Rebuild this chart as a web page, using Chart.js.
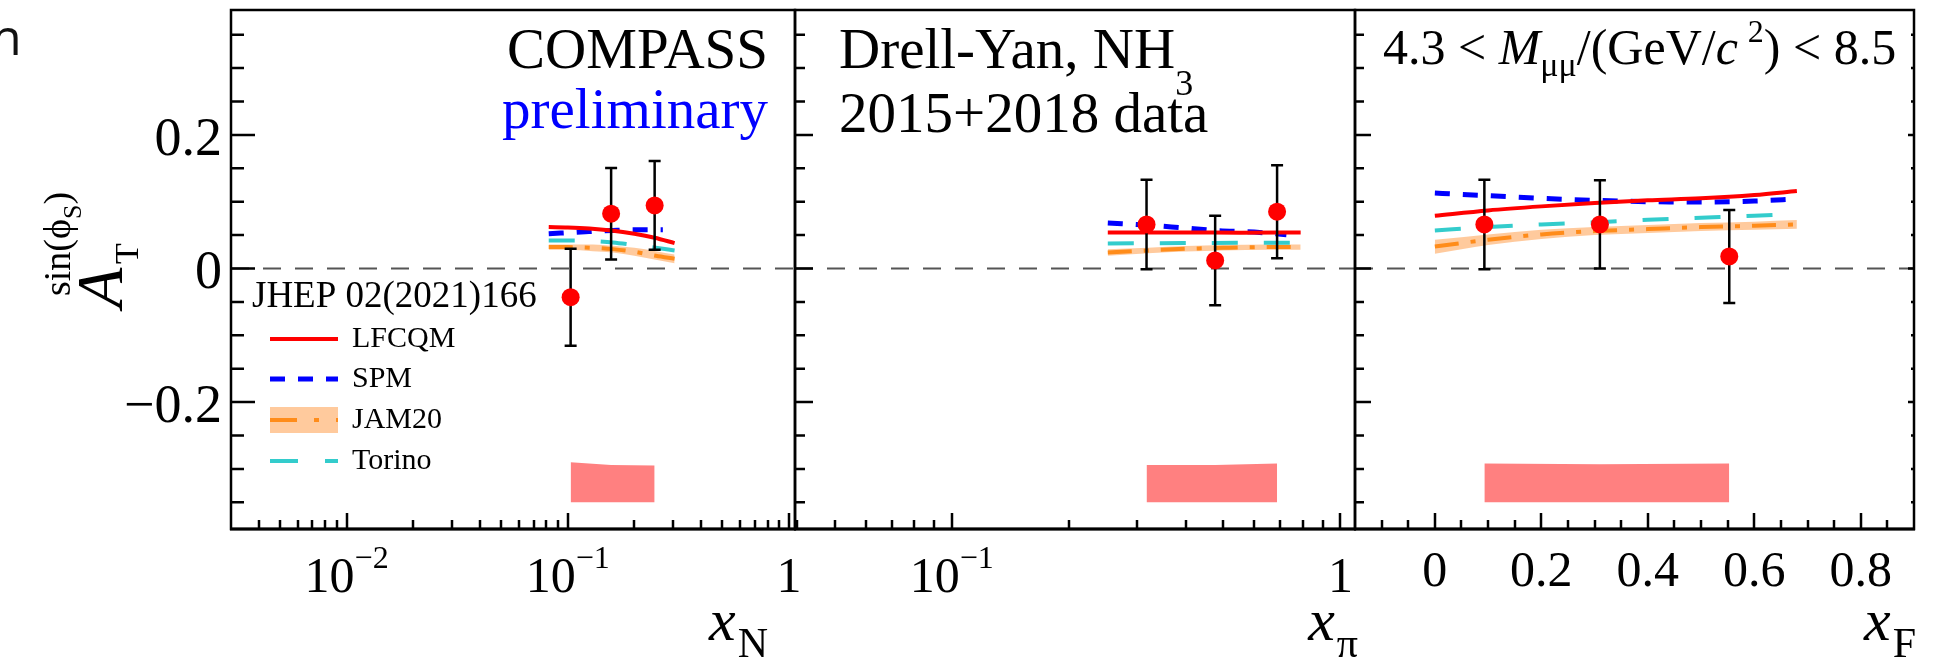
<!DOCTYPE html>
<html>
<head>
<meta charset="utf-8">
<script src="https://cdn.jsdelivr.net/npm/chart.js@4.4.0/dist/chart.umd.min.js"></script>
<style>
  html,body{margin:0;padding:0;background:#fff;}
  #wrap{position:relative;width:1936px;height:660px;overflow:hidden;}
  #wrap canvas{position:absolute;left:0;top:0;}
</style>
</head>
<body>
<div id="wrap">
  <canvas id="pN" width="1936" height="660"></canvas>
  <canvas id="pPi" width="1936" height="660"></canvas>
  <canvas id="pF" width="1936" height="660"></canvas>
</div>
<script>
// A_T^sin(phi_S) vs x_N, x_pi, x_F

// data points: x, asymmetry, stat error, systematic error
const xN  = [0.103, 0.157, 0.247];
const aN  = [-0.043, 0.082, 0.0945];
const eN  = [0.0725, 0.0685, 0.0665];
const sN  = [0.060, 0.056, 0.055];

const xPi = [0.317, 0.476, 0.687];
const aPi = [0.066, 0.012, 0.085];
const ePi = [0.067, 0.067, 0.0695];
const sPi = [0.056, 0.056, 0.058];

const xF  = [0.093, 0.31, 0.553];
const aF  = [0.066, 0.066, 0.018];
const eF  = [0.067, 0.066, 0.0695];
const sF  = [0.058, 0.057, 0.058];

const sysBase = -0.35;

// model curves [x, y]  (JAM20: [x, low, central, high])
const lfcqmN  = [[0.082,0.062],[0.1,0.0615],[0.125,0.060],[0.157,0.057],[0.2,0.052],[0.247,0.046],[0.304,0.038]];
const spmN    = [[0.082,0.052],[0.12,0.055],[0.16,0.057],[0.2,0.058],[0.269,0.058]];
const torinoN = [[0.082,0.042],[0.1,0.042],[0.13,0.041],[0.16,0.039],[0.2,0.035],[0.25,0.031],[0.304,0.027]];
const jamN    = [[0.082,0.028,0.032,0.036],[0.1,0.028,0.032,0.036],[0.13,0.026,0.031,0.036],[0.16,0.024,0.029,0.034],[0.2,0.019,0.025,0.031],[0.25,0.013,0.019,0.026],[0.304,0.008,0.0145,0.021]];

const lfcqmPi  = [[0.252,0.054],[0.4,0.054],[0.55,0.0535],[0.79,0.054]];
const spmPi    = [[0.252,0.068],[0.317,0.065],[0.39,0.061],[0.476,0.057],[0.6,0.0545],[0.726,0.0505]];
const torinoPi = [[0.252,0.0375],[0.4,0.038],[0.6,0.0385],[0.79,0.0385]];
const jamPi    = [[0.252,0.019,0.024,0.029],[0.32,0.023,0.027,0.031],[0.4,0.0255,0.0295,0.0335],[0.5,0.027,0.031,0.035],[0.65,0.028,0.032,0.036],[0.79,0.028,0.032,0.036]];

const lfcqmF  = [[0,0.079],[0.1,0.087],[0.2,0.093],[0.3,0.098],[0.4,0.102],[0.5,0.105],[0.6,0.110],[0.68,0.116]];
const spmF    = [[0,0.113],[0.1,0.109],[0.2,0.105],[0.3,0.102],[0.4,0.100],[0.5,0.0995],[0.6,0.101],[0.68,0.104]];
const torinoF = [[0,0.057],[0.1,0.062],[0.2,0.066],[0.3,0.069],[0.4,0.073],[0.5,0.076],[0.6,0.079],[0.68,0.082]];
const jamF    = [[0,0.022,0.033,0.043],[0.1,0.035,0.043,0.051],[0.2,0.044,0.051,0.058],[0.3,0.050,0.056,0.062],[0.4,0.053,0.059,0.065],[0.5,0.056,0.062,0.068],[0.6,0.058,0.064,0.070],[0.68,0.0595,0.066,0.0725]];

// tick labels
const yTickVals = [0.2, 0, -0.2];
const yTickText = ['0.2', '0', '\u22120.2'];
const xNTicks   = [0.01, 0.1, 1];
const xNText    = [['10','\u22122'], ['10','\u22121'], ['1','']];
const xPiTicks  = [0.1, 1];
const xPiText   = [['10','\u22121'], ['1','']];
const xFTicks   = [0, 0.2, 0.4, 0.6, 0.8];
const xFText    = ['0', '0.2', '0.4', '0.6', '0.8'];

const legendNames = ['LFCQM', 'SPM', 'JAM20', 'Torino'];

const RED = '#ff0000', BLUE = '#0000ff', ORANGE = '#ff8c1a', CYAN = '#33cccc';
const JAMBAND = 'rgba(255,150,60,0.5)', SYS = '#ff8080';
const FONT = '"Liberation Serif","Times New Roman",serif';
const yMin = -0.39, yMax = 0.387;

function font(size, italic){ return (italic ? 'italic ' : '') + size + 'px ' + FONT; }

// parts: [text, size, italic, dy, color, gapAfter]
function rich(ctx, x, y, parts, align){
  let w = 0;
  parts.forEach(p=>{ ctx.font = font(p[1], p[2]); w += ctx.measureText(p[0]).width + (p[5]||0); });
  if (align === 'right') x -= w; else if (align === 'center') x -= w/2;
  ctx.textAlign = 'left'; ctx.textBaseline = 'alphabetic';
  parts.forEach(p=>{
    ctx.font = font(p[1], p[2]); ctx.fillStyle = p[4] || '#000';
    ctx.fillText(p[0], x, y + (p[3]||0));
    x += ctx.measureText(p[0]).width + (p[5]||0);
  });
}

function pts(arr, k){ return arr.map(p=>({x:p[0], y:p[k]})); }
function curve(arr, k, color, dash, width){
  return {data: pts(arr, k), borderColor: color, borderDash: dash, borderWidth: width, pointRadius: 0, fill: false, cubicInterpolationMode: 'monotone'};
}

function logTicks(min, max){
  const out = [];
  for (let d = -3; d <= 0; d++) for (let m = 1; m <= 9; m++) {
    const v = m * Math.pow(10, d);
    if (v > min*1.001 && v < max*0.999) out.push({v, major: m === 1});
  }
  return out;
}
function linTicks(){
  const out = [];
  for (let k = -2; k <= 17; k++) out.push({v: k*0.05, major: k % 4 === 0});
  return out;
}

function panel(id, p){
  const datasets = [
    {data: p.x.map((x,i)=>({x, y: p.a[i], e: p.e[i]})), showLine: false, pointRadius: 9, pointBackgroundColor: RED, pointBorderWidth: 0},
    curve(p.lfcqm, 1, RED, [], 4),
    curve(p.spm, 1, BLUE, [15,13], 5),
    curve(p.torino, 1, CYAN, [26,26], 4),
    curve(p.jam, 2, ORANGE, [24,12,5,12], 4),
    {data: pts(p.jam, 3), borderWidth: 0, pointRadius: 0, fill: '+1', backgroundColor: JAMBAND, cubicInterpolationMode: 'monotone'},
    {data: pts(p.jam, 1), borderWidth: 0, pointRadius: 0, fill: false, cubicInterpolationMode: 'monotone'},
    {data: p.x.map((x,i)=>({x, y: sysBase + p.s[i]})), borderWidth: 0, pointRadius: 0, fill: {value: sysBase}, backgroundColor: SYS}
  ];

  const deco = {
    id: 'deco',
    beforeDatasetsDraw(ch){
      const ctx = ch.ctx, a = ch.chartArea, y0 = ch.scales.y.getPixelForValue(0);
      ctx.save(); ctx.strokeStyle = '#555'; ctx.lineWidth = 2; ctx.setLineDash([18,14]);
      ctx.beginPath(); ctx.moveTo(a.left, y0); ctx.lineTo(a.right, y0); ctx.stroke(); ctx.restore();
    },
    beforeDatasetDraw(ch, args){
      if (args.index !== 0) return;
      const ctx = ch.ctx, xs = ch.scales.x, ys = ch.scales.y;
      ctx.save(); ctx.strokeStyle = '#000'; ctx.lineWidth = 2.5;
      ch.data.datasets[0].data.forEach(d=>{
        const x = xs.getPixelForValue(d.x), y1 = ys.getPixelForValue(d.y + d.e), y2 = ys.getPixelForValue(d.y - d.e);
        ctx.beginPath(); ctx.moveTo(x, y1); ctx.lineTo(x, y2);
        ctx.moveTo(x-6, y1); ctx.lineTo(x+6, y1); ctx.moveTo(x-6, y2); ctx.lineTo(x+6, y2); ctx.stroke();
      });
      ctx.restore();
    },
    afterDraw(ch){
      const ctx = ch.ctx, a = ch.chartArea, xs = ch.scales.x, ys = ch.scales.y;
      ctx.save();
      ctx.strokeStyle = '#000'; ctx.lineWidth = 2.5; ctx.setLineDash([]);
      ctx.strokeRect(a.left, a.top, a.right - a.left, a.bottom - a.top);
      ctx.lineWidth = 3; ctx.beginPath(); ctx.moveTo(a.left - 1, a.bottom); ctx.lineTo(a.right + 1, a.bottom); ctx.stroke();
      // y ticks (inward)
      ctx.lineWidth = 2.5; ctx.beginPath();
      for (let k = -7; k <= 7; k++) {
        const y = ys.getPixelForValue(k*0.05), major = k % 4 === 0;
        ctx.moveTo(a.left, y); ctx.lineTo(a.left + (major ? p.tick[0] : p.tick[1]), y);
        if (p.rightTicks) { ctx.moveTo(a.right, y); ctx.lineTo(a.right - (major ? 6 : 3), y); }
      }
      ctx.stroke();
      // x ticks (inward)
      ctx.lineWidth = 2.5; ctx.beginPath();
      p.xticks.forEach(t=>{
        const x = Math.round(xs.getPixelForValue(t.v));
        if (x <= a.left + 1 || x >= a.right - 1) return;
        ctx.moveTo(x, a.bottom); ctx.lineTo(x, a.bottom - (t.major ? 16 : 9));
      });
      ctx.stroke();
      // x tick labels
      p.xlabels.forEach((t,i)=>{
        const x = xs.getPixelForValue(p.xlabelVals[i]);
        if (Array.isArray(t)) rich(ctx, x, 592, t[1] ? [[t[0],50],[t[1],32,false,-24]] : [[t[0],50]], 'center');
        else rich(ctx, x, 586, [[t,50]], 'center');
      });
      // axis title
      rich(ctx, p.titleRight, 640, [['x',60,true,0,null,2],[p.sub,42,false,17]], 'right');
      if (p.extra) p.extra(ctx, ch);
      ctx.restore();
    }
  };

  return new Chart(document.getElementById(id), {
    type: 'line',
    data: {datasets},
    options: {
      responsive: false, animation: false, events: [], devicePixelRatio: 1,
      layout: {padding: {left: p.L, right: 1936 - p.R, top: 10, bottom: 131}},
      plugins: {legend: {display: false}, tooltip: {enabled: false}},
      scales: {
        x: {type: p.xtype, min: p.xmin, max: p.xmax, display: false},
        y: {type: 'linear', min: yMin, max: yMax, display: false}
      }
    },
    plugins: [deco]
  });
}

// panel 1: x_N
panel('pN', {
  x: xN, a: aN, e: eN, s: sN, lfcqm: lfcqmN, spm: spmN, torino: torinoN, jam: jamN,
  L: 231, R: 795, xtype: 'logarithmic', xmin: 0.003, xmax: 1.065, tick: [24, 13],
  xticks: logTicks(0.003, 1.065), xlabels: xNText, xlabelVals: xNTicks, sub: 'N', titleRight: 768,
  extra(ctx, ch){
    const ys = ch.scales.y;
    // y tick labels
    yTickVals.forEach((v,i)=>rich(ctx, 222, ys.getPixelForValue(v) + 20, [[yTickText[i],54]], 'right'));
    // y title, rotated
    ctx.save(); ctx.translate(122, 308); ctx.rotate(-Math.PI/2);
    rich(ctx, 0, 0, [['A',66,true]]);
    rich(ctx, 44, 16, [['T',34]]);
    rich(ctx, 12, -52, [['sin(\u03d5',38],['S',26,false,11],[')',38]]);
    ctx.restore();
    // labels
    rich(ctx, 768, 68, [['COMPASS',57]], 'right');
    rich(ctx, 768, 128, [['preliminary',57,false,0,'#0000ff']], 'right');
    // legend
    rich(ctx, 252, 307, [['JHEP 02(2021)166',37]]);
    const rows = [339, 379, 420, 461];
    ctx.fillStyle = JAMBAND; ctx.fillRect(270, 407, 68, 26);
    const st = [[RED,[],4],[BLUE,[15,13],5],[ORANGE,[27,17,5,17],4],[CYAN,[28,27],4]];
    st.forEach((s,i)=>{
      ctx.strokeStyle = s[0]; ctx.setLineDash(s[1]); ctx.lineWidth = s[2];
      ctx.beginPath(); ctx.moveTo(270, rows[i]); ctx.lineTo(338, rows[i]); ctx.stroke();
      rich(ctx, 352, rows[i] + 8, [[legendNames[i],30]]);
    });
    ctx.setLineDash([]);
    // cropped glyph at the page edge
    ctx.font = '50px "Open Sans"'; ctx.fillStyle = '#111'; ctx.fillText('n', -9, 55);
  }
});

// panel 2: x_pi
panel('pPi', {
  x: xPi, a: aPi, e: ePi, s: sPi, lfcqm: lfcqmPi, spm: spmPi, torino: torinoPi, jam: jamPi,
  L: 795, R: 1355, xtype: 'logarithmic', xmin: 0.0395, xmax: 1.09, tick: [18, 10],
  xticks: logTicks(0.0395, 1.09), xlabels: xPiText, xlabelVals: xPiTicks, sub: '\u03c0', titleRight: 1358,
  extra(ctx){
    rich(ctx, 839, 68, [['Drell-Yan, NH',57],['3',36,false,27]]);
    rich(ctx, 839, 132, [['2015+2018 data',57]]);
  }
});

// panel 3: x_F
panel('pF', {
  x: xF, a: aF, e: eF, s: sF, lfcqm: lfcqmF, spm: spmF, torino: torinoF, jam: jamF,
  L: 1355, R: 1914, xtype: 'linear', xmin: -0.15, xmax: 0.9, tick: [16, 9], rightTicks: true,
  xticks: linTicks(), xlabels: xFText, xlabelVals: xFTicks, sub: 'F', titleRight: 1916,
  extra(ctx){
    rich(ctx, 1383, 64, [['4.3 < ',50],['M',50,true],['\u03bc\u03bc',34,false,12],['/(GeV/',50],['c',50,true,0,null,10],['2',32,false,-22],[') < 8.5',50]]);
  }
});
</script>
</body>
</html>
